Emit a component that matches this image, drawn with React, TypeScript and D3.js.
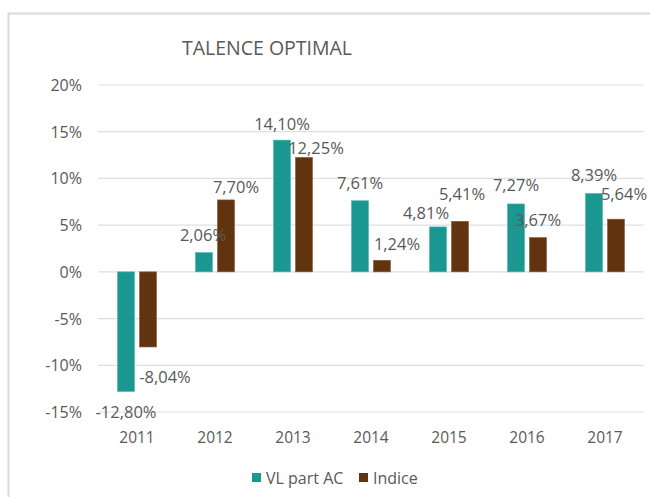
import * as d3 from "d3";

// chart values
const years = ["2011", "2012", "2013", "2014", "2015", "2016", "2017"];
const seriesNames = ["VL part AC", "Indice"];
const vlPartAC = [-12.8, 2.06, 14.1, 7.61, 4.81, 7.27, 8.39];
const indice = [-8.04, 7.7, 12.25, 1.24, 5.41, 3.67, 5.64];
const yTicks = [-15, -10, -5, 0, 5, 10, 15, 20];

// manual placement of the value labels, as in the original (dx, distance from bar end)
const vlNudge = [0, -1, 0, 0, -12, 0, 0];
const indiceNudge = [17, 10, 12, 15, 2, 0, 8];
const vlLift = [20, 18, 17, 18, 14, 19, 19];
const indiceLift = [30, 13, 10, 17, 28, 18, 26];

const colors = ["#1a9791", "#61330f"];
const textColor = "#595959";
const font = "'Open Sans', sans-serif";

const W = 650;
const H = 497;
const margin = { top: 85, right: 6, bottom: 85, left: 98 };

const fmt = (v: number) =>
  d3.format(".2f")(v).replace(".", ",").replace("\u2212", "-") + "%";

export default function App() {
  const x0 = d3
    .scaleBand<string>()
    .domain(years)
    .range([margin.left, W - margin.right]);
  const group = 39;
  const x1 = d3
    .scaleBand<string>()
    .domain(seriesNames)
    .range([(x0.bandwidth() - group) / 2, (x0.bandwidth() + group) / 2])
    .paddingInner(0.2273);
  const y = d3
    .scaleLinear()
    .domain([-15, 20])
    .range([H - margin.bottom, margin.top]);

  const rows = years.map((yr, i) => ({
    year: yr,
    vals: [
      { name: seriesNames[0], v: vlPartAC[i], dx: vlNudge[i], lift: vlLift[i] },
      { name: seriesNames[1], v: indice[i], dx: indiceNudge[i], lift: indiceLift[i] },
    ],
  }));

  return (
    <svg
      width={W}
      height={H}
      style={{ position: "absolute", left: 0, top: 0, background: "#fff" }}
      fontFamily={font}
    >
      {/* chart frame */}
      <line x1={8.5} x2={8.5} y1={13} y2={H} stroke="#d9d9d9" strokeWidth={2} />
      <line x1={8} x2={W} y1={13.5} y2={13.5} stroke="#d9d9d9" strokeWidth={2} />

      <text
        x={267}
        y={47}
        textAnchor="middle"
        dominantBaseline="central"
        fontSize={19.5}
        fill={textColor}
      >
        TALENCE OPTIMAL
      </text>

      {/* grid + y ticks */}
      {yTicks.map((t) => (
        <g key={t}>
          <line
            x1={margin.left}
            x2={W - margin.right}
            y1={y(t)}
            y2={y(t)}
            stroke="#dbe0e5"
            strokeWidth={1.2}
          />
          <text
            x={82}
            y={y(t)}
            textAnchor="end"
            dominantBaseline="central"
            fontSize={16}
            fill={textColor}
          >
            {t}%
          </text>
        </g>
      ))}

      {/* bars */}
      {rows.map((r) => (
        <g key={r.year} transform={`translate(${x0(r.year)},0)`}>
          {r.vals.map((d, j) => (
            <rect
              key={d.name}
              x={x1(d.name)}
              y={Math.min(y(d.v), y(0))}
              width={x1.bandwidth()}
              height={Math.abs(y(d.v) - y(0))}
              fill={colors[j]}
              stroke={j === 0 ? "#4fb3ae" : "#8a5a3a"}
              strokeWidth={0.6}
            />
          ))}
          {r.vals.map((d) => (
            <text
              key={d.name + "l"}
              x={(x1(d.name) as number) + x1.bandwidth() / 2 + d.dx}
              y={d.v >= 0 ? y(d.v) - d.lift : y(d.v) + d.lift}
              textAnchor="middle"
              dominantBaseline="central"
              fontSize={16.5}
              fill={textColor}
            >
              {fmt(d.v)}
            </text>
          ))}
          <text
            x={x0.bandwidth() / 2}
            y={437}
            textAnchor="middle"
            dominantBaseline="central"
            fontSize={15.5}
            fill={textColor}
          >
            {r.year}
          </text>
        </g>
      ))}

      {/* legend */}
      {[
        { name: seriesNames[0], x: 252 },
        { name: seriesNames[1], x: 359 },
      ].map((l, i) => (
        <g key={l.name}>
          <rect x={l.x} y={473} width={9} height={9} fill={colors[i]} />
          <text
            x={l.x + 14}
            y={477.5}
            dominantBaseline="central"
            fontSize={16}
            fill={textColor}
          >
            {l.name}
          </text>
        </g>
      ))}
    </svg>
  );
}
